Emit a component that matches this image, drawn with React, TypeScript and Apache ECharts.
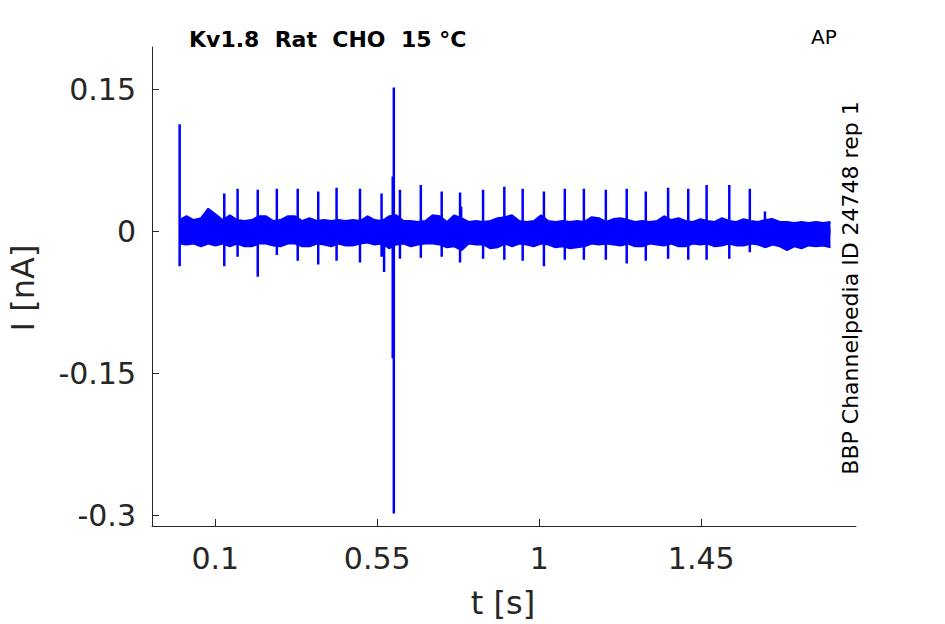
import React, { useEffect, useRef } from "react";
import * as echarts from "echarts";

// axis ranges and ticks
const X_MIN = -0.0758;
const X_MAX = 1.88;
const Y_MIN = -0.3113;
const Y_MAX = 0.1947;
const xTicks = [0.1, 0.55, 1, 1.45];
const yTicks = [-0.3, -0.15, 0, 0.15];

// noise band envelope (nA), sampled from t = ENV_START every ENV_STEP s
const ENV_START = 0;
const ENV_STEP = 0.0201;
const envHigh = [
  0.012, 0.016, 0.012, 0.014, 0.024, 0.018, 0.012, 0.017, 0.012, 0.011,
  0.012, 0.016, 0.016, 0.011, 0.012, 0.016, 0.016, 0.011, 0.014, 0.011,
  0.012, 0.011, 0.012, 0.011, 0.012, 0.011, 0.016, 0.012, 0.011, 0.016,
  0.017, 0.011, 0.011, 0.010, 0.011, 0.017, 0.016, 0.010, 0.017, 0.014,
  0.010, 0.011, 0.010, 0.011, 0.014, 0.015, 0.017, 0.011, 0.010, 0.011,
  0.017, 0.011, 0.010, 0.011, 0.010, 0.011, 0.010, 0.015, 0.014, 0.010,
  0.013, 0.014, 0.012, 0.010, 0.011, 0.010, 0.011, 0.016, 0.012, 0.014,
  0.011, 0.010, 0.013, 0.011, 0.010, 0.014, 0.011, 0.010, 0.013, 0.011,
  0.010, 0.012, 0.013, 0.010, 0.010, 0.009, 0.010, 0.009, 0.010, 0.009,
  0.010,
];
const envLow = [
  -0.013, -0.014, -0.013, -0.016, -0.013, -0.015, -0.013, -0.016, -0.013, -0.016,
  -0.016, -0.013, -0.013, -0.015, -0.016, -0.013, -0.013, -0.016, -0.016, -0.013,
  -0.014, -0.016, -0.013, -0.015, -0.015, -0.013, -0.012, -0.014, -0.013, -0.018,
  -0.014, -0.013, -0.016, -0.014, -0.013, -0.013, -0.014, -0.017, -0.016, -0.020,
  -0.013, -0.014, -0.014, -0.018, -0.017, -0.013, -0.016, -0.013, -0.014, -0.016,
  -0.013, -0.014, -0.017, -0.016, -0.018, -0.017, -0.016, -0.013, -0.014, -0.013,
  -0.014, -0.015, -0.013, -0.016, -0.016, -0.013, -0.014, -0.015, -0.013, -0.016,
  -0.016, -0.013, -0.014, -0.013, -0.016, -0.015, -0.013, -0.015, -0.015, -0.013,
  -0.014, -0.017, -0.014, -0.016, -0.020, -0.016, -0.018, -0.015, -0.016, -0.015,
  -0.017,
];

// action-potential-evoked current spikes
const spikeTimes = [
  0.001, 0.125, 0.162, 0.218, 0.271, 0.329, 0.386, 0.437, 0.502, 0.562,
  0.569, 0.593, 0.596, 0.613, 0.671, 0.729, 0.780, 0.783, 0.844, 0.903,
  0.954, 1.013, 1.071, 1.124, 1.185, 1.243, 1.296, 1.358, 1.414, 1.465,
  1.528, 1.585, 1.627, 1.646,
];
const spikeUp = [
  0.113, 0.040, 0.045, 0.044, 0.045, 0.045, 0.042, 0.046, 0.045, 0.040,
  0.010, 0.058, 0.152, 0.044, 0.049, 0.042, 0.041, 0.026, 0.044, 0.047,
  0.045, 0.042, 0.045, 0.045, 0.044, 0.045, 0.042, 0.046, 0.045, 0.049,
  0.049, 0.045, 0.021, 0.014,
];
const spikeDown = [
  -0.037, -0.037, -0.027, -0.048, -0.025, -0.031, -0.035, -0.031, -0.033, -0.027,
  -0.043, -0.134, -0.298, -0.029, -0.028, -0.027, -0.033, -0.012, -0.029, -0.030,
  -0.031, -0.037, -0.030, -0.030, -0.030, -0.034, -0.031, -0.029, -0.030, -0.030,
  -0.029, -0.022, -0.012, -0.012,
];

const TITLE = "Kv1.8  Rat  CHO  15 °C";
const CORNER = "AP";
const SIDE = "BBP Channelpedia ID 24748 rep 1";
const X_NAME = "t [s]";
const Y_NAME = "I [nA]";

const FONT = "'DejaVu Sans', 'Liberation Sans', sans-serif";
const AXIS_COLOR = "#262626";
const TRACE = "#0000ff";

export default function App() {
  const ref = useRef<HTMLDivElement>(null);

  useEffect(() => {
    if (!ref.current) return;
    const chart = echarts.init(ref.current, null, { renderer: "svg" });

    const envTimes = envLow.map((_, i) => ENV_START + i * ENV_STEP);
    const lowData = envLow.map((v, i) => [envTimes[i], v]);
    const highData = envHigh.map((v, i) => [envTimes[i], v]);
    const spikeData: any[] = [];
    spikeTimes.forEach((t, i) => {
      spikeData.push([t, spikeUp[i]]);
      spikeData.push([t, spikeDown[i]]);
      spikeData.push([t, null]);
    });

    chart.setOption({
      animation: false,
      backgroundColor: "#ffffff",
      grid: { left: 152, top: 47, right: 89, bottom: 98 },
      xAxis: {
        type: "value",
        min: X_MIN,
        max: X_MAX,
        splitLine: { show: false },
        axisLine: { show: true, onZero: false, lineStyle: { color: AXIS_COLOR, width: 1 } },
        axisTick: {
          show: true,
          inside: true,
          length: 7,
          customValues: xTicks,
          lineStyle: { color: AXIS_COLOR, width: 1 },
        },
        axisLabel: {
          customValues: xTicks,
          fontSize: 30,
          color: AXIS_COLOR,
          fontFamily: FONT,
          margin: 17,
          formatter: (v: number) => String(v),
        },
      },
      yAxis: {
        type: "value",
        min: Y_MIN,
        max: Y_MAX,
        splitLine: { show: false },
        axisLine: { show: true, onZero: false, lineStyle: { color: AXIS_COLOR, width: 1 } },
        axisTick: {
          show: true,
          inside: true,
          length: 7,
          customValues: yTicks,
          lineStyle: { color: AXIS_COLOR, width: 1 },
        },
        axisLabel: {
          customValues: yTicks,
          fontSize: 30,
          color: AXIS_COLOR,
          fontFamily: FONT,
          margin: 16,
          formatter: (v: number) => String(v),
        },
      },
      series: [
        {
          type: "line",
          name: "high",
          data: highData,
          showSymbol: false,
          symbol: "none",
          lineStyle: { color: TRACE, width: 1.8 },
          areaStyle: { color: TRACE, opacity: 1, origin: -0.004 },
        },
        {
          type: "line",
          name: "low",
          data: lowData,
          showSymbol: false,
          symbol: "none",
          lineStyle: { color: TRACE, width: 1.8 },
          areaStyle: { color: TRACE, opacity: 1, origin: 0.004 },
        },
        {
          type: "line",
          name: "spikes",
          data: spikeData,
          connectNulls: false,
          showSymbol: false,
          symbol: "none",
          lineStyle: { color: TRACE, width: 2.5 },
        },
      ],
      graphic: [
        {
          type: "text",
          left: 189,
          top: 28,
          z: 100,
          style: {
            text: TITLE,
            font: `bold 22px ${FONT}`,
            fill: "#000000",
          },
        },
        {
          type: "text",
          left: 811,
          top: 27,
          z: 100,
          style: {
            text: CORNER,
            font: `20px ${FONT}`,
            fill: "#000000",
          },
        },
        {
          type: "text",
          x: 850,
          y: 288,
          z: 100,
          rotation: Math.PI / 2,
          style: {
            text: SIDE,
            font: `22px ${FONT}`,
            fill: "#000000",
            align: "center",
            verticalAlign: "middle",
          },
        },
        {
          type: "text",
          x: 503,
          y: 603,
          z: 100,
          style: {
            text: X_NAME,
            font: `32px ${FONT}`,
            fill: AXIS_COLOR,
            align: "center",
            verticalAlign: "middle",
          },
        },
        {
          type: "text",
          x: 23,
          y: 288,
          z: 100,
          rotation: Math.PI / 2,
          style: {
            text: Y_NAME,
            font: `32px ${FONT}`,
            fill: AXIS_COLOR,
            align: "center",
            verticalAlign: "middle",
          },
        },
      ],
    });

    return () => chart.dispose();
  }, []);

  return (
    <div
      ref={ref}
      style={{ position: "absolute", left: 0, top: 0, width: 945, height: 624, background: "#ffffff" }}
    />
  );
}
